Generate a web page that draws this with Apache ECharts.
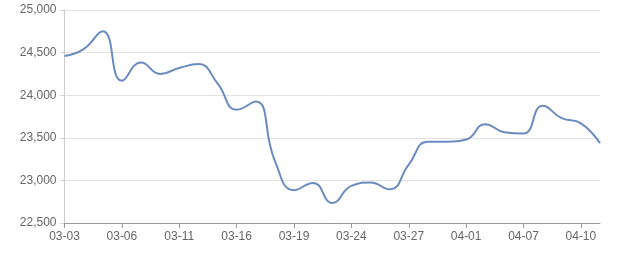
<!DOCTYPE html>
<html>
<head>
<meta charset="utf-8">
<script src="https://cdn.jsdelivr.net/npm/echarts@6/dist/echarts.min.js"></script>
<style>html,body{margin:0;padding:0;background:#fff;}#c{width:640px;height:270px;}</style>
</head>
<body>
<div id="c"></div>
<script>
var dates = ['03-03','03-04','03-05','03-06','03-09','03-10','03-11','03-12','03-13',
  '03-16','03-17','03-18','03-19','03-20','03-23','03-24','03-25','03-26','03-27',
  '03-30','03-31','04-01','04-02','04-03','04-07','04-08','04-09','04-10','04-13'];
var prices = [24460,24540,24750,24170,24385,24250,24320,24365,24140,
  23830,23925,23230,22885,22970,22735,22935,22975,22895,23185,
  23455,23455,23480,23660,23565,23550,23875,23730,23670,23435];
var yMin = 22500, yMax = 25000, yStep = 500;

var chart = echarts.init(document.getElementById('c'), null, {renderer:'canvas'});
chart.setOption({
  animation:false,
  grid:{left:64.5, right:40, top:10, bottom:47},
  xAxis:{
    type:'category', data:dates, boundaryGap:false,
    axisLine:{lineStyle:{color:'#999'}},
    axisTick:{show:true, interval:2, length:5, lineStyle:{color:'#999'}},
    axisLabel:{interval:2, color:'#666', fontSize:12, fontFamily:'sans-serif', margin:8}
  },
  yAxis:{
    type:'value', min:yMin, max:yMax, interval:yStep,
    axisLine:{show:true, lineStyle:{color:'#ccc'}},
    axisTick:{show:true, length:4, lineStyle:{color:'#ccc'}},
    axisLabel:{color:'#666', fontSize:12, fontFamily:'sans-serif', margin:8},
    splitLine:{lineStyle:{color:'#e3e3e3'}}
  },
  series:[{
    type:'line', data:prices, smooth:true, showSymbol:false,
    lineStyle:{color:'#6a8bc0', width:2}
  }]
});
</script>
</body>
</html>
